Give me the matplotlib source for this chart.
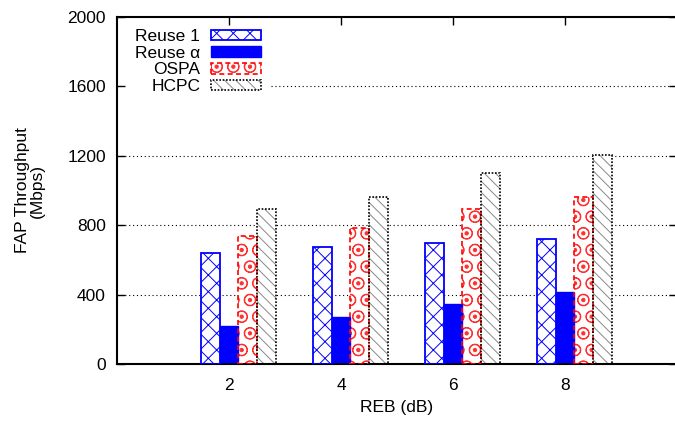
import matplotlib
matplotlib.use("Agg")
import matplotlib.pyplot as plt
import numpy as np
from matplotlib.patches import Patch
from matplotlib.legend_handler import HandlerTuple

plt.rcParams['font.family'] = ['Liberation Sans', 'DejaVu Sans']
plt.rcParams['font.size'] = 12.5
plt.rcParams['hatch.linewidth'] = 0.7

reb = [2, 4, 6, 8]
tick_labels = ["2", "4", "6", "8"]
series_names = ["Reuse 1", "Reuse \u03b1", "OSPA", "HCPC"]
reuse1 = [641, 676, 695, 718]
reuse_alpha = [219, 273, 346, 415]
ospa = [738, 782, 893, 964]
hcpc = [891, 961, 1103, 1206]

fig = plt.figure(figsize=(6.75, 4.21), dpi=100)
ax = fig.add_axes([117/675, 1-364/421, 560/675, (364-17)/421])

x = np.array(reb, dtype=float)
w = 0.335
offsets = [-w, 0, w, 2*w]

styles = [
    dict(fill='white', hatch='xx', hcol='blue', ecol='blue', ls='-', lw=1.3),
    dict(fill='blue', hatch=None, hcol='blue', ecol='blue', ls='-', lw=1.0),
    dict(fill='white', hatch='O.', hcol='#ff3030', ecol='red', ls=(0, (3, 2)), lw=1.2),
    dict(fill='white', hatch='\\\\\\', hcol='#888888', ecol='black', ls=(0, (1, 1)), lw=1.2),
]
data = [reuse1, reuse_alpha, ospa, hcpc]

for vals, off, st in zip(data, offsets, styles):
    ax.bar(x + off, vals, width=w, color=st['fill'], edgecolor=st['hcol'],
           hatch=st['hatch'], linewidth=0, zorder=2)
    ax.bar(x + off, vals, width=w, fill=False, edgecolor=st['ecol'],
           linestyle=st['ls'], linewidth=st['lw'], zorder=3)

ax.set_xlim(0, 10)
ax.set_ylim(0, 2000)
ax.set_xticks(reb)
ax.set_xticklabels(tick_labels)
ax.set_yticks([0, 400, 800, 1200, 1600, 2000])
ax.tick_params(direction='in', top=True, right=True, length=6, width=1.0)
ax.tick_params(axis='x', pad=10)
ax.tick_params(axis='y', pad=8)
for s in ax.spines.values():
    s.set_linewidth(1.5)

for yv in [400, 800, 1200]:
    ax.plot([0, 10], [yv, yv], color='black', linestyle=(0, (1, 2.5)), linewidth=0.8, zorder=1)
ax.plot([2.75, 10], [1600, 1600], color='black', linestyle=(0, (1, 2.5)), linewidth=0.8, zorder=1)

ax.set_xlabel("REB (dB)", labelpad=5)
ax.set_ylabel("FAP Throughput\n(Mbps)", labelpad=16, linespacing=1.0)

handles = []
for st in styles:
    p_fill = Patch(facecolor=st['fill'], edgecolor=st['hcol'], hatch=st['hatch'], linewidth=0)
    p_edge = Patch(fill=False, edgecolor=st['ecol'], linestyle=st['ls'], linewidth=st['lw'])
    handles.append((p_fill, p_edge))
leg = ax.legend(handles, series_names, loc='upper left', bbox_to_anchor=(18/560, 1-12/347),
                frameon=False, markerfirst=False, handlelength=2.9, handleheight=0.57,
                handletextpad=0.6, labelspacing=0.1, borderpad=0, borderaxespad=0,
                handler_map={tuple: HandlerTuple(ndivide=1, pad=0)})

fig.savefig("out.png", dpi=100)
